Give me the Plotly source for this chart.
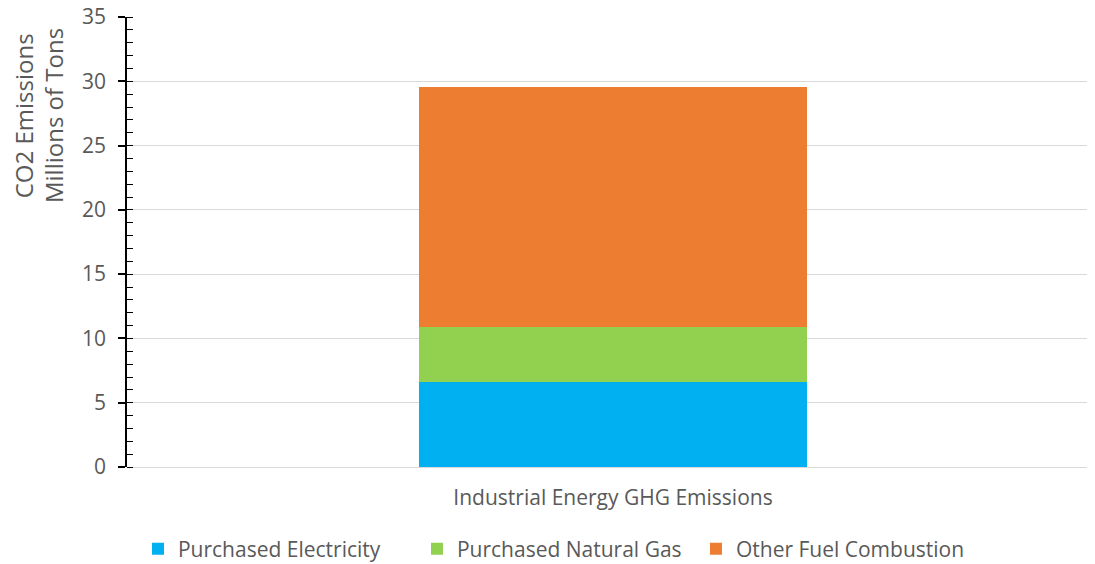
import plotly.graph_objects as go

categories = ["Industrial Energy GHG Emissions"]
series_names = ["Purchased Electricity", "Purchased Natural Gas", "Other Fuel Combustion"]
electricity = [6.65]
natural_gas = [4.25]
other_fuel = [18.65]
colors = ["#00B0F0", "#92D050", "#ED7D31"]
y_title_lines = ["CO2 Emissions", "Millions of Tons"]

values = [electricity, natural_gas, other_fuel]

fig = go.Figure()
for name, vals, col in zip(series_names, values, colors):
    fig.add_trace(go.Bar(x=categories, y=vals, name=name, marker=dict(color=col, line=dict(width=0))))

font_family = "Open Sans, sans-serif"
text_color = "#595959"
fig.update_layout(
    barmode="stack",
    bargap=0.596,
    width=1095, height=564,
    margin=dict(l=127, r=8, t=17, b=97, autoexpand=False),
    paper_bgcolor="white", plot_bgcolor="white",
    font=dict(family=font_family, size=21, color=text_color),
    legend=dict(orientation="h", xref="container", x=0.126, xanchor="left",
                yref="container", y=0.0266, yanchor="middle",
                font=dict(size=21, color=text_color), traceorder="normal",
                itemwidth=30, tracegroupgap=0,
                entrywidth=234, entrywidthmode="pixels"),
    showlegend=True,
)
fig.update_xaxes(
    range=[-0.50625, 0.49375],
    showgrid=False, ticks="", showline=False,
    tickfont=dict(size=21, color=text_color),
    ticklabelstandoff=16,
    automargin=False,
)
fig.update_yaxes(
    range=[0, 35], dtick=5, tick0=0,
    showgrid=True, gridcolor="#D9D9D9", gridwidth=1,
    showline=True, linecolor="black", linewidth=1.5,
    ticks="outside", ticklen=7, tickcolor="black", tickwidth=1.5,
    minor=dict(dtick=1, ticks="inside", ticklen=6, tickcolor="black", tickwidth=1, showgrid=False),
    tickfont=dict(size=21, color=text_color),
    ticklabelstandoff=8,
    zeroline=True, zerolinecolor="#D9D9D9", zerolinewidth=1,
    automargin=False,
)
# y-axis title lines placed near the top of the axis, as in the reference
for i, line in enumerate(y_title_lines):
    fig.add_annotation(
        text=line, textangle=-90, showarrow=False,
        xref="paper", yref="paper",
        x=-0.107 + i * 0.031, y=0.78,
        xanchor="center", yanchor="middle",
        font=dict(size=24, color=text_color, family=font_family),
    )

fig.write_html("out.html")
